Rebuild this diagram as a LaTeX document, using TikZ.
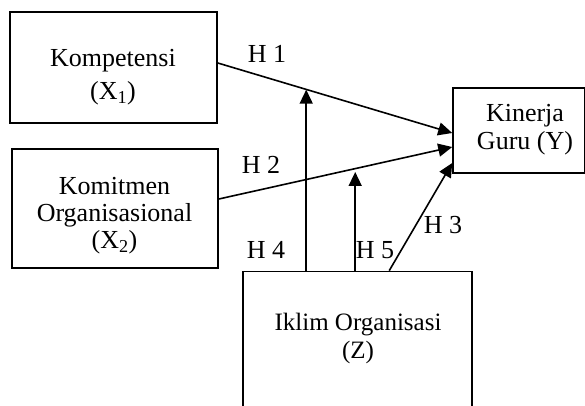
\documentclass[tikz,border=0pt]{standalone}
\usepackage{fontspec}
\setmainfont{Liberation Serif}
\usetikzlibrary{arrows.meta,calc}
\tikzset{
  boxnode/.style={draw, line width=1.6pt, inner sep=0pt, fill=none},
  lbl/.style={font=\fontsize{26}{30}\selectfont, inner sep=0pt, anchor=base},
  txt/.style={align=center, inner sep=0pt},
  conn/.style={line width=1.6pt, -{Triangle[length=14pt,width=13pt]}},
  plain/.style={line width=1.6pt}
}
\begin{document}
\begin{tikzpicture}[x=1pt,y=-1pt]
\useasboundingbox (0,0) rectangle (585,405);
\clip (0,0) rectangle (585,405);
\fill[white] (0,0) rectangle (585,405);
% boxes
\node[boxnode, minimum width=207pt, minimum height=111pt] (x1) at (113.5,67.5) {};
\node[boxnode, minimum width=206pt, minimum height=119pt] (x2) at (115,208.5) {};
\node[boxnode, minimum width=132pt, minimum height=85pt] (y) at (519,130.5) {};
\node[boxnode, minimum width=229pt, minimum height=160pt] (z) at (357.5,351.5) {};
% texts
\node[txt, font=\fontsize{26}{33}\selectfont] (x1t) at (113,77) {Kompetensi\\(X\textsubscript{1})};
\node[txt, font=\fontsize{26}{27}\selectfont] (x2t) at (114.5,216) {Komitmen\\Organisasional\\(X\textsubscript{2})};
\node[txt, font=\fontsize{26}{28}\selectfont] (yt) at (525,130) {Kinerja\\Guru (Y)};
\node[txt, font=\fontsize{25}{28}\selectfont] (zt) at (358,338) {Iklim Organisasi\\(Z)};
% coordinates
\coordinate (h1s) at ([yshift=4.5pt]x1.east);
\coordinate (h1e) at ([yshift=-2.5pt]y.west);
\coordinate (h2s) at ([yshift=9.5pt]x2.east);
\coordinate (h2e) at ([yshift=-16.5pt]y.west);
\coordinate (h3e) at ([yshift=-32.5pt]y.west);
\coordinate (h4s) at ([xshift=64pt]z.north west);
\coordinate (h5s) at ([xshift=113pt]z.north west);
\coordinate (h3s) at ([xshift=147pt]z.north west);
\coordinate (m1) at ($(h1s)!0.381!(h1e)$);
\coordinate (m2) at ([yshift=-3.5pt]$(h2s)!0.587!(h2e)$);
% connectors
\draw[conn] (h1s) -- (h1e);
\draw[conn] (h2s) -- (h2e);
\draw[conn] (h3s) -- (h3e);
\draw[conn] (h4s) -- (h4s |- m1);
\draw[conn] (h5s) -- (h5s |- m2);
% labels
\node[lbl] (l1) at (267,62) {H 1};
\node[lbl] (l2) at (261,173) {H 2};
\node[lbl] (l3) at (443,233) {H 3};
\node[lbl] (l4) at (266,258) {H 4};
\node[lbl] (l5) at (375,258) {H 5};
\end{tikzpicture}
\end{document}
